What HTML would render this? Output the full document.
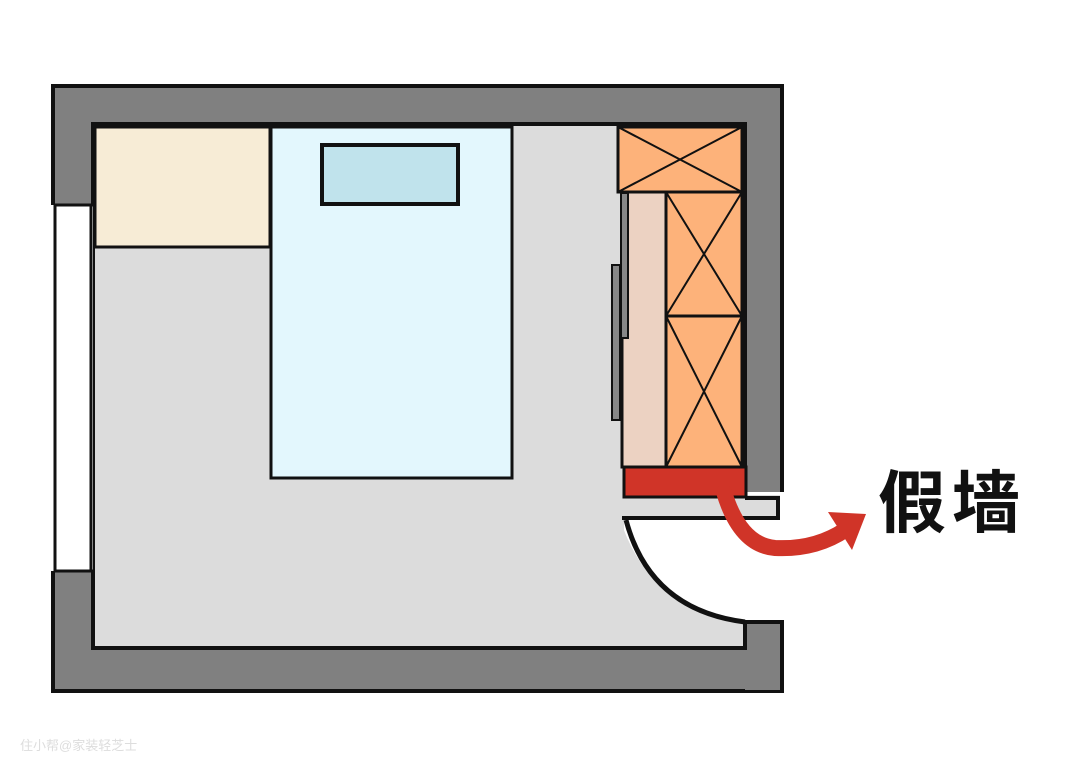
<!DOCTYPE html><html><head><style>body{margin:0;background:#fff}svg{display:block}</style></head><body>
<svg width="1080" height="772" viewBox="0 0 1080 772" xmlns="http://www.w3.org/2000/svg">
<rect x="0" y="0" width="1080" height="772" fill="#fff"/>
<rect x="53" y="86" width="729" height="605" fill="#808080" stroke="#111" stroke-width="4"/>
<rect x="720" y="492" width="66" height="130" fill="#fff"/>
<rect x="93" y="124" width="652" height="524" fill="#dcdcdc" stroke="#111" stroke-width="4"/>
<rect x="51" y="205" width="42" height="366" fill="#fff"/>
<path d="M55 205 H93 M55 571 H93 M55 205 V571 M91 205 V571" stroke="#111" stroke-width="3" fill="none"/>
<!-- grey strip above door line -->
<rect x="700" y="495" width="80" height="22" fill="#dcdcdc"/>
<!-- white swing area -->
<rect x="624" y="519" width="164" height="104" fill="#ffffff"/>
<path d="M620 519 Q650 612 746 623 L746 646 L620 646 Z" fill="#dcdcdc"/>
<path d="M622 518 H778 V498 H745" stroke="#111" stroke-width="4" fill="none"/>
<path d="M626 520 Q650 610 745 622" stroke="#111" stroke-width="5" fill="none"/>
<rect x="745" y="624" width="36" height="66" fill="#808080"/>
<path d="M742 622 H782 V690" stroke="#111" stroke-width="4" fill="none"/>
<path d="M745 622 V648 H93" stroke="#111" stroke-width="4" fill="none"/>
<rect x="95" y="127" width="175" height="120" fill="#f7ecd6" stroke="#111" stroke-width="3"/>
<rect x="271" y="127" width="241" height="351" fill="#e3f7fd" stroke="#111" stroke-width="3"/>
<rect x="322" y="145" width="136" height="59" fill="#c0e3ec" stroke="#111" stroke-width="4"/>
<rect x="618" y="127" width="124" height="65" fill="#fdb27a" stroke="#111" stroke-width="3"/>
<path d="M618 127 L742 192 M742 127 L618 192" stroke="#111" stroke-width="2"/>
<rect x="622" y="192" width="44" height="275" fill="#ecd2c2" stroke="#111" stroke-width="3"/>
<rect x="666" y="192" width="76" height="124" fill="#fdb27a" stroke="#111" stroke-width="3"/>
<rect x="666" y="316" width="76" height="151" fill="#fdb27a" stroke="#111" stroke-width="3"/>
<path d="M666 192 L742 316 M742 192 L666 316 M666 316 L742 467 M742 316 L666 467" stroke="#111" stroke-width="2"/>
<rect x="621" y="193" width="7" height="145" fill="#888" stroke="#111" stroke-width="2"/>
<rect x="612" y="265" width="8" height="155" fill="#888" stroke="#111" stroke-width="2"/>
<rect x="742" y="127" width="5" height="370" fill="#111"/>
<rect x="624" y="467" width="122" height="30" fill="#d03428" stroke="#111" stroke-width="3"/>
<path d="M724 492 Q740 545 775 548 Q815 550 845 530" stroke="#d03428" stroke-width="16" fill="none" stroke-linecap="round"/>
<path d="M828 512 L866 514 L852 550 Z" fill="#d03428"/>
<text x="878" y="527" font-family="Liberation Sans,'Noto Sans CJK SC',sans-serif" font-size="68" font-weight="bold" letter-spacing="6" fill="#111">假墙</text>
<text x="20" y="750" font-family="Liberation Sans,'Noto Sans CJK SC',sans-serif" font-size="13" fill="#ddd">住小帮@家装轻芝士</text>
</svg>
</body></html>
